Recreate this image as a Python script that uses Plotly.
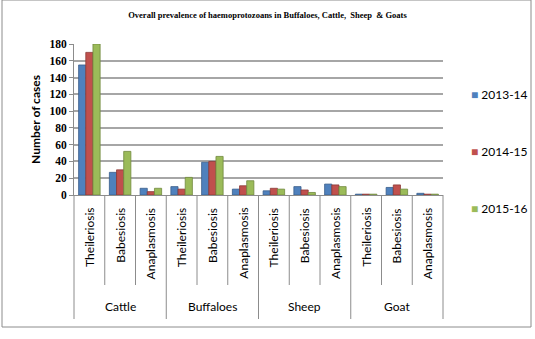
import plotly.graph_objects as go

# Cases per host species and disease, three reporting years
hosts = ["Cattle", "Buffaloes", "Sheep", "Goat"]
diseases = ["Theileriosis", "Babesiosis", "Anaplasmosis"]

y2013_14 = [155, 27, 8, 10, 39, 7, 5, 10, 13, 1, 9, 2]
y2014_15 = [170, 30, 4, 7, 40, 11, 8, 6, 12, 1, 12, 1]
y2015_16 = [180, 52, 8, 21, 46, 17, 7, 3, 10, 1, 7, 1]

years = ["2013-14", "2014-15", "2015-16"]
colors = ["#4F81BD", "#C0504D", "#9BBB59"]
edges = ["#385d8a", "#8c3836", "#71893f"]

outer = [h for h in hosts for _ in diseases]
inner = [d for _ in hosts for d in diseases]
n = len(inner)

W, H = 535, 339
L, R, T, B = 74, 92, 44, 144
plot_h = H - T - B


def py(px):
    """Pixel row (from top) -> paper y."""
    return (H - B - px) / plot_h


def pxx(px):
    """Pixel column -> paper x."""
    return (px - L) / (W - L - R)


fig = go.Figure()
for name, vals, c, e in zip(years, [y2013_14, y2014_15, y2015_16], colors, edges):
    fig.add_trace(go.Bar(
        x=[outer, inner], y=vals, name=name, showlegend=False,
        marker=dict(color=c, line=dict(color=e, width=0.8)),
    ))

sans = "Lato, Liberation Sans, Arial"
serif = "Liberation Serif, Times New Roman"
axis_grey = "#8c8c8c"

annotations = []
shapes = []

# disease labels (rotated) and the short dividers between them
for i, d in enumerate(inner):
    annotations.append(dict(
        xref="paper", yref="paper", x=(i + 0.5) / n, y=py(206),
        text=d, textangle=-90, showarrow=False,
        xanchor="center", yanchor="top",
        font=dict(family=sans, size=12, color="black")))
for i in range(n + 1):
    long_line = i % len(diseases) == 0
    shapes.append(dict(
        type="line", xref="paper", yref="paper",
        x0=i / n, x1=i / n, y0=py(195), y1=py(319 if long_line else 285),
        line=dict(color=axis_grey, width=1)))

# host group labels
for g, h in enumerate(hosts):
    annotations.append(dict(
        xref="paper", yref="paper",
        x=(g * len(diseases) + len(diseases) / 2) / n, y=py(306),
        text=h, showarrow=False, xanchor="center", yanchor="middle",
        font=dict(family=sans, size=12, color="black")))

# legend entries
for k, (name, c) in enumerate(zip(years, colors)):
    annotations.append(dict(
        xref="paper", yref="paper", x=pxx(469), y=py(94 + 57 * k),
        text=f"<span style='color:{c}'>■</span> {name}", showarrow=False,
        xanchor="left", yanchor="middle",
        font=dict(family=sans, size=12, color="black")))

# outer chart frame
shapes.append(dict(type="rect", xref="paper", yref="paper",
                   x0=pxx(2), x1=pxx(531), y0=py(327), y1=py(0),
                   line=dict(color=axis_grey, width=1)))

fig.update_layout(
    width=W, height=H,
    margin=dict(l=L, r=R, t=T, b=B),
    paper_bgcolor="white", plot_bgcolor="white",
    barmode="group", bargap=0.3, bargroupgap=0.0,
    title=dict(text="<b>Overall prevalence of haemoprotozoans in Buffaloes, Cattle,  Sheep  & Goats</b>",
               x=0.5, xanchor="center", y=0.955, yanchor="middle",
               font=dict(family=serif, size=8.5, color="black")),
    showlegend=False,
    xaxis=dict(
        type="multicategory", showticklabels=False, showdividers=False,
        showline=True, linecolor=axis_grey, linewidth=1, ticks="",
    ),
    yaxis=dict(
        range=[0, 180], dtick=20, tick0=0,
        showgrid=True, gridcolor="#a6a6a6", gridwidth=1.5,
        showline=True, linecolor=axis_grey, linewidth=1,
        ticks="outside", ticklen=4, tickcolor=axis_grey,
        tickfont=dict(family=serif, size=11.5, color="black"),
        tickprefix="<b>", ticksuffix="</b>",
        title=dict(text="<b>Number of cases</b>", standoff=6,
                   font=dict(family=sans, size=12, color="black")),
    ),
    annotations=annotations,
    shapes=shapes,
)

fig.write_html("out.html")
